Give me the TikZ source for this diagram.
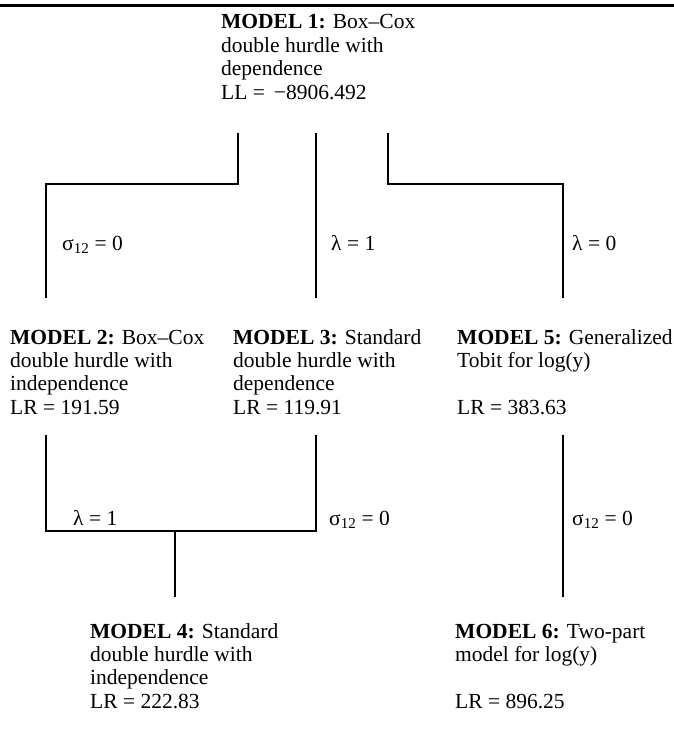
\documentclass[tikz,border=0pt]{standalone}
\usepackage{fontspec}
\setmainfont{Liberation Serif}
\tikzset{
  model/.style={anchor=base west, inner sep=0pt, font=\fontsize{21.5}{23.4}\selectfont},
  lab/.style={anchor=base west, inner sep=0pt, font=\fontsize{21.5}{24}\selectfont},
  conn/.style={line width=1.8pt, line cap=rect}
}
\newcommand{\mtab}[1]{\begin{tabular}[t]{@{}l@{}}#1\end{tabular}}
\begin{document}
\begin{tikzpicture}[x=1pt,y=-1pt]
\useasboundingbox (0,0) rectangle (674,733);
% top rule
\coordinate (ruleL) at (0,5.5);
\coordinate (ruleR) at (674,5.5);
\draw[line width=3pt] (ruleL) -- (ruleR);

% models
\node[model] (m1) at (221,29) {\mtab{\textbf{MODEL 1:} Box--Cox\\double hurdle with\\dependence\\LL = \,−8906.492}};
\node[model] (m2) at (10,344) {\mtab{\textbf{MODEL 2:} Box--Cox\\double hurdle with\\independence\\LR = 191.59}};
\node[model] (m3) at (233,344) {\mtab{\textbf{MODEL 3:} Standard\\double hurdle with\\dependence\\LR = 119.91}};
\node[model] (m5) at (457,344) {\mtab{\textbf{MODEL 5:} Generalized\\Tobit for log(y)\\ \\LR = 383.63}};
\node[model] (m4) at (90,638) {\mtab{\textbf{MODEL 4:} Standard\\double hurdle with\\independence\\LR = 222.83}};
\node[model] (m6) at (455,638) {\mtab{\textbf{MODEL 6:} Two-part\\model for log(y)\\ \\LR = 896.25}};

% connector points, upper level
\coordinate (a1) at (238,134);
\coordinate (a2) at (238,184);
\coordinate (a3) at (46,184);
\coordinate (a4) at (46,297);
\coordinate (b1) at (316,134);
\coordinate (b2) at (316,297);
\coordinate (c1) at (388,134);
\coordinate (c2) at (388,184);
\coordinate (c3) at (563,184);
\coordinate (c4) at (563,297);
\draw[conn] (a1) -- (a2) -- (a3) -- (a4);
\draw[conn] (b1) -- (b2);
\draw[conn] (c1) -- (c2) -- (c3) -- (c4);

% lower level
\coordinate (d1) at (46,436);
\coordinate (d2) at (46,531);
\coordinate (e1) at (316,436);
\coordinate (e2) at (316,531);
\coordinate (f1) at (175,531);
\coordinate (f2) at (175,596);
\coordinate (g1) at (563,436);
\coordinate (g2) at (563,596);
\draw[conn] (d1) -- (d2) -- (e2) -- (e1);
\draw[conn] (f1) -- (f2);
\draw[conn] (g1) -- (g2);

% labels
\node[lab] (l1) at (62,250) {σ\textsubscript{12} = 0};
\node[lab] (l2) at (331,250) {λ = 1};
\node[lab] (l3) at (572,250) {λ = 0};
\node[lab] (l4) at (73,525) {λ = 1};
\node[lab] (l5) at (329,525) {σ\textsubscript{12} = 0};
\node[lab] (l6) at (572,525) {σ\textsubscript{12} = 0};
\end{tikzpicture}
\end{document}
